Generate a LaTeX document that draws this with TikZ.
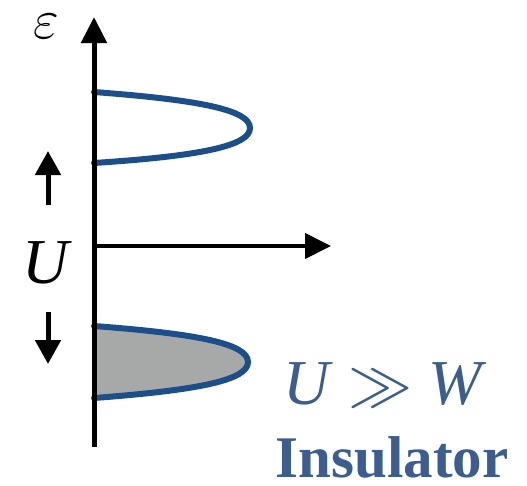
\RequirePackage{fix-cm}
\documentclass[tikz,border=0pt]{standalone}
\usepackage{fontspec}
\setmainfont{Liberation Serif}
\usetikzlibrary{arrows.meta}
\definecolor{bandblue}{RGB}{28,78,138}
\definecolor{txtblue}{RGB}{59,94,142}
\definecolor{bandgray}{RGB}{166,169,168}
\tikzset{
  axis/.style={line width=5pt, -{Triangle[width=25pt,length=26pt]}},
  smallarrow/.style={line width=5pt, -{Triangle[width=25pt,length=24pt]}},
  band/.style={draw=bandblue, line width=6pt, line cap=round},
  lbl/.style={inner sep=0pt}
}
\begin{document}
\begin{tikzpicture}[x=1pt,y=-1pt]
\useasboundingbox (0,0) rectangle (527,485);
% coordinates
\coordinate (O) at (94,246);
\coordinate (bot) at (94,447);
\coordinate (top) at (94,17);
\coordinate (right) at (331,246);
% lower filled band
\fill[bandgray] (94,326) .. controls (200,334) and (248,344) .. (248,362)
  .. controls (248,380) and (200,390) .. (94,398) -- cycle;
\draw[band] (94,326) .. controls (200,334) and (248,344) .. (248,362)
  .. controls (248,380) and (200,390) .. (94,398);
% upper band
\draw[band] (94,92) .. controls (200,100) and (250,110) .. (250,128)
  .. controls (250,146) and (200,156) .. (94,163);
% axes
\draw[axis] (bot) -- (top);
\draw[axis, line width=4pt] (O) -- (right);
% small arrows
\coordinate (ua1) at (48,205);
\coordinate (ua2) at (48,151);
\coordinate (da1) at (48,312);
\coordinate (da2) at (48,364);
\draw[smallarrow] (ua1) -- (ua2);
\draw[smallarrow] (da1) -- (da2);
% labels
\node[lbl] (eps) at (46,26) {\fontsize{56}{56}\selectfont$\varepsilon$};
\node[lbl] (U) at (47,263) {\fontsize{64}{64}\selectfont\textit{U}};
\node[lbl, text=txtblue] (cond) at (385,385) {\fontsize{64}{64}\selectfont\textit{U} $\gg$ \textit{W}};
\node[lbl, text=txtblue, anchor=base] (ins) at (392,477) {\fontsize{59}{59}\selectfont\textbf{Insulator}};
\end{tikzpicture}
\end{document}
